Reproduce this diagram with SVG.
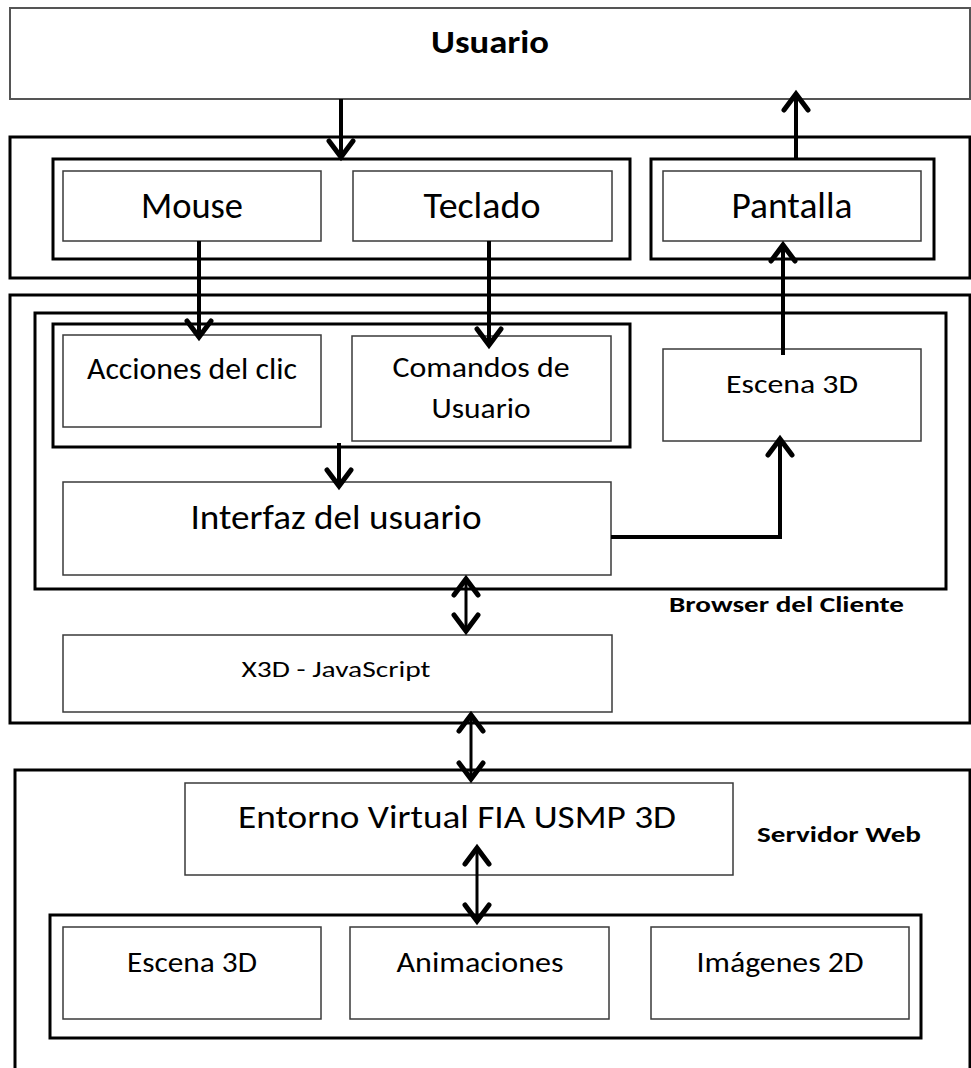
<svg xmlns="http://www.w3.org/2000/svg" width="971" height="1068" viewBox="0 0 971 1068">
  <defs>
    <style>
      .frame { fill: none; stroke: #000; stroke-width: 3; }
      .box { fill: #fff; stroke: #3a3a3a; stroke-width: 1.5; }
      .top { fill: #fff; stroke: #555; stroke-width: 2; }
      .lbl { font-family: Carlito, Lato, "Liberation Sans", sans-serif; fill: #000; text-anchor: middle; }
      .bold { font-weight: bold; }
      .cap { font-family: Carlito, Lato, "Liberation Sans", sans-serif; font-weight: bold; fill: #000; }
      .arrow { fill: none; stroke: #000; stroke-width: 4; marker-end: url(#head); }
      .dbl { fill: none; stroke: #000; stroke-width: 3; marker-start: url(#headStart); marker-end: url(#head); }
    </style>
    <marker id="head" markerUnits="userSpaceOnUse" viewBox="-22 -16 28 32" markerWidth="28" markerHeight="32" refX="0" refY="0" orient="auto" overflow="visible">
      <path d="M-16,-12 L0,0 L-16,12" fill="none" stroke="#000" stroke-width="5" stroke-linecap="round" stroke-linejoin="miter"/>
    </marker>
    <marker id="headStart" markerUnits="userSpaceOnUse" viewBox="-6 -16 28 32" markerWidth="28" markerHeight="32" refX="0" refY="0" orient="auto" overflow="visible">
      <path d="M16,-12 L0,0 L16,12" fill="none" stroke="#000" stroke-width="5" stroke-linecap="round" stroke-linejoin="miter"/>
    </marker>
  </defs>

  <rect width="971" height="1068" fill="#fff"/>

  <!-- user -->
  <g id="usuario">
    <rect class="top" x="10" y="8" width="960" height="91"/>
    <text class="lbl bold" x="490" y="53" font-size="33" textLength="118" lengthAdjust="spacingAndGlyphs">Usuario</text>
  </g>

  <!-- input / output devices band -->
  <g id="dispositivos">
    <rect class="frame" x="10" y="137" width="960" height="141"/>
  </g>
  <g id="entrada">
    <rect class="frame" x="53" y="159" width="577" height="100"/>
  </g>
  <g id="mouse">
    <rect class="box" x="63" y="171" width="258" height="70"/>
    <text class="lbl" x="192" y="218" font-size="36" textLength="102" lengthAdjust="spacingAndGlyphs">Mouse</text>
  </g>
  <g id="teclado">
    <rect class="box" x="353" y="171" width="259" height="70"/>
    <text class="lbl" x="482" y="218" font-size="36" textLength="117" lengthAdjust="spacingAndGlyphs">Teclado</text>
  </g>
  <g id="salida">
    <rect class="frame" x="651" y="159" width="283" height="100"/>
  </g>
  <g id="pantalla">
    <rect class="box" x="663" y="171" width="258" height="70"/>
    <text class="lbl" x="792" y="218" font-size="36" textLength="121" lengthAdjust="spacingAndGlyphs">Pantalla</text>
  </g>

  <!-- client browser -->
  <g id="cliente">
    <rect class="frame" x="10" y="295" width="960" height="428"/>
  </g>
  <g id="browser">
    <rect class="frame" x="35" y="313" width="911" height="276"/>
    <text class="cap" x="669" y="612" font-size="23" textLength="235" lengthAdjust="spacingAndGlyphs">Browser del Cliente</text>
  </g>
  <g id="eventos">
    <rect class="frame" x="53" y="324" width="577" height="123"/>
  </g>
  <g id="acciones">
    <rect class="box" x="63" y="335" width="258" height="92"/>
    <text class="lbl" x="192" y="379" font-size="30" textLength="210" lengthAdjust="spacingAndGlyphs">Acciones del clic</text>
  </g>
  <g id="comandos">
    <rect class="box" x="352" y="336" width="259" height="105"/>
    <text class="lbl" x="481" y="377" font-size="29" textLength="177" lengthAdjust="spacingAndGlyphs">Comandos de</text>
    <text class="lbl" x="481" y="418" font-size="29" textLength="99" lengthAdjust="spacingAndGlyphs">Usuario</text>
  </g>
  <g id="escena-cliente">
    <rect class="box" x="663" y="349" width="258" height="92"/>
    <text class="lbl" x="792" y="393" font-size="27" textLength="132" lengthAdjust="spacingAndGlyphs">Escena 3D</text>
  </g>
  <g id="interfaz">
    <rect class="box" x="63" y="482" width="548" height="93"/>
    <text class="lbl" x="336" y="529" font-size="34" textLength="291" lengthAdjust="spacingAndGlyphs">Interfaz del usuario</text>
  </g>
  <g id="x3d">
    <rect class="box" x="63" y="635" width="549" height="77"/>
    <text class="lbl" x="336" y="677" font-size="23" textLength="189" lengthAdjust="spacingAndGlyphs">X3D - JavaScript</text>
  </g>

  <!-- web server -->
  <g id="servidor">
    <rect class="frame" x="15" y="770" width="955" height="310"/>
    <text class="cap" x="757" y="842" font-size="23" textLength="164" lengthAdjust="spacingAndGlyphs">Servidor Web</text>
  </g>
  <g id="entorno">
    <rect class="box" x="185" y="783" width="548" height="92"/>
    <text class="lbl" x="457" y="828" font-size="32" textLength="438" lengthAdjust="spacingAndGlyphs">Entorno Virtual FIA USMP 3D</text>
  </g>
  <g id="recursos">
    <rect class="frame" x="50" y="915" width="871" height="123"/>
  </g>
  <g id="escena-servidor">
    <rect class="box" x="63" y="927" width="258" height="92"/>
    <text class="lbl" x="192" y="972" font-size="29" textLength="130" lengthAdjust="spacingAndGlyphs">Escena 3D</text>
  </g>
  <g id="animaciones">
    <rect class="box" x="350" y="927" width="259" height="92"/>
    <text class="lbl" x="480" y="972" font-size="29" textLength="167" lengthAdjust="spacingAndGlyphs">Animaciones</text>
  </g>
  <g id="imagenes">
    <rect class="box" x="651" y="927" width="258" height="92"/>
    <text class="lbl" x="780" y="972" font-size="29" textLength="167" lengthAdjust="spacingAndGlyphs">Imágenes 2D</text>
  </g>

  <!-- connectors -->
  <g id="conectores">
    <path class="arrow" d="M341,99 V157"/>
    <path class="arrow" d="M796,159 V94"/>
    <path class="arrow" d="M199,241 V337"/>
    <path class="arrow" d="M489,241 V345"/>
    <path class="arrow" d="M783,355 V245"/>
    <path class="arrow" d="M339,443 V486"/>
    <path class="arrow" d="M611,537 H780 V439" stroke-width="5"/>
    <path class="dbl" d="M466,579 V631"/>
    <path class="dbl" d="M471,715 V779"/>
    <path class="dbl" d="M477,848 V921"/>
  </g>
</svg>
